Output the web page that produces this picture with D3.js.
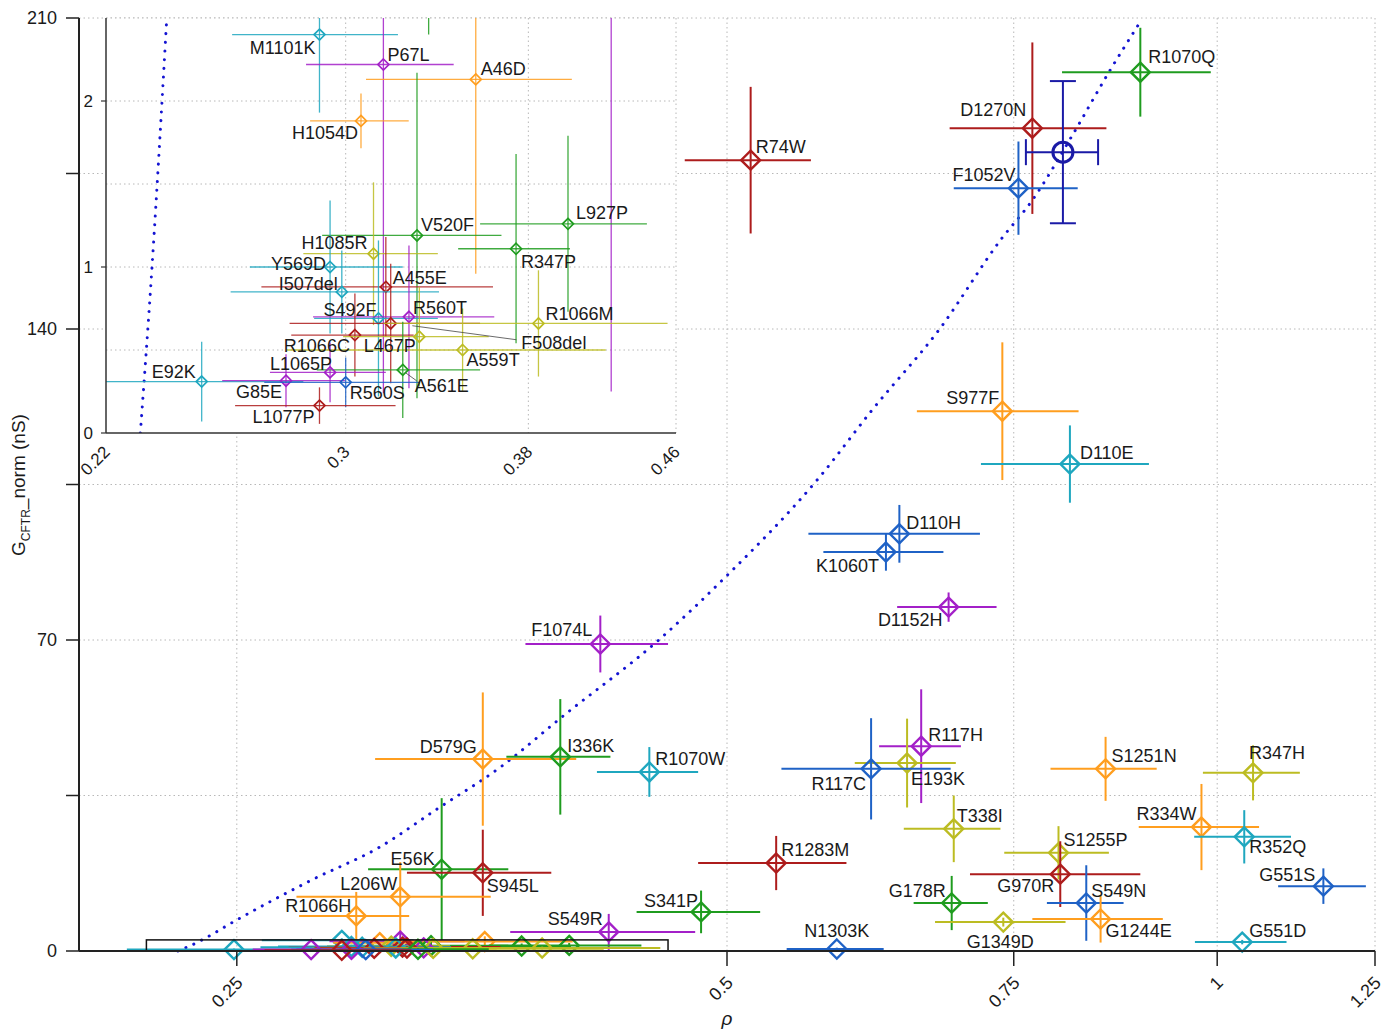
<!DOCTYPE html>
<html>
<head>
<meta charset="utf-8">
<script src="https://cdn.jsdelivr.net/npm/d3@7"></script>
<style>
body { margin: 0; background: #fff; }
text { font-family: "Liberation Sans", Arial, sans-serif; fill: #1a1a1a; }
</style>
</head>
<body>
<script>
// mutants labelled on the main panel
const mainNames = ["R74W","D1270N","F1052V","R1070Q","S977F","D110E","D110H","K1060T","D1152H","F1074L",
  "D579G","I336K","R1070W","R117H","E193K","R117C","S1251N","R347H","T338I","R334W","R352Q","R1283M",
  "S1255P","G970R","G551S","S549N","G1244E","G178R","G1349D","S341P","N1303K","G551D","E56K","S945L",
  "L206W","R1066H","S549R"];
const mainRho = [0.517,0.770,0.755,0.897,0.738,0.812,0.638,0.626,0.684,0.418,
  0.354,0.395,0.448,0.658,0.645,0.613,0.854,1.052,0.689,0.978,1.039,0.536,
  0.799,0.801,1.162,0.831,0.848,0.687,0.739,0.482,0.584,1.036,0.334,0.354,
  0.315,0.296,0.423];
const mainRhoErr = [0.046,0.085,0.066,0.094,0.084,0.096,0.077,0.053,0.048,0.042,
  0.050,0.029,0.032,0.038,0.046,0.073,0.064,0.072,0.047,0.083,0.071,0.056,
  0.059,0.096,0.072,0.045,0.078,0.036,0.068,0.042,0.040,0.067,0.033,0.036,
  0.043,0.023,0.055];
const mainG = [178.0,185.2,171.7,197.8,121.5,109.6,93.9,89.8,77.4,69.1,
  43.2,43.7,40.3,46.1,42.3,41.0,41.0,40.1,27.5,27.9,25.7,19.8,
  22.1,17.3,14.6,10.8,7.2,10.8,6.5,8.8,0.45,2.0,18.4,17.6,
  12.2,7.9,4.3];
const mainGErr = [16.5,19.3,10.5,10.0,15.5,8.7,6.5,4.2,3.3,6.4,
  15.0,13.0,5.6,12.8,10.0,11.4,7.2,6.2,7.5,9.7,6.0,6.1,
  6.0,7.4,4.0,8.5,5.3,6.1,1.0,4.8,0.3,0.5,16.0,9.7,
  7.8,5.4,4.05];

// mutants labelled in the low-conductance inset
const insetNames = ["M1101K","P67L","A46D","H1054D","L927P","V520F","R347P","H1085R","Y569D","A455E",
  "I507del","S492F","R560T","L467P","R1066M","R1066C","F508del","A559T","A561E","E92K",
  "G85E","L1065P","R560S","L1077P"];
const insetRho = [0.290,0.315,0.355,0.306,0.400,0.329,0.374,0.311,0.294,0.316,
  0.2985,0.313,0.3256,0.318,0.385,0.3036,0.330,0.349,0.323,0.249,
  0.2777,0.294,0.300,0.290];
const insetRhoErr = [0.031,0.030,0.047,0.0195,0.043,0.038,0.027,0.027,0.029,0.047,
  0.040,0.025,0.038,0.039,0.070,0.024,0.031,0.071,0.034,0.035,
  0.022,0.022,0.030,0.030];
const insetG = [2.40,2.22,2.13,1.88,1.26,1.19,1.11,1.08,1.00,0.88,
  0.85,0.69,0.70,0.66,0.66,0.59,0.58,0.50,0.38,0.31,
  0.315,0.365,0.305,0.165];
const insetGErr = [0.47,1.98,1.17,0.165,0.53,0.98,0.57,0.43,0.40,0.30,
  0.25,0.47,0.43,0.36,0.32,0.25,0.30,0.25,0.29,0.24,
  0.16,0.18,0.15,0.11];

// wild type reference
const wtRho = [0.804];
const wtRhoErr = [0.041];
const wtG = [179.8];
const wtGErr = [16];

// dotted curve
const curveRho = [0.230,0.2335,0.238,0.250,0.278,0.306,0.332,0.363,0.396,0.454,0.499,0.570,0.614,0.676,0.736,0.770,0.816,0.858,0.895];
const curveG = [0,1.0,2.5,7.0,16.0,23.4,32.0,41.4,52.7,70.0,84.2,106.7,121.8,140.2,160,169,184,197.8,208.6];

// axes
const xTicks = [0.25, 0.5, 0.75, 1, 1.25];
const yTicks = [0, 35, 70, 105, 140, 175, 210];
const yTickLabels = [0, 70, 140, 210];
const insetXTicks = [0.22, 0.3, 0.38, 0.46];
const insetYTicks = [0, 1, 2];
const insetYGrid = [0.5, 1, 1.5, 2, 2.5];

// colours per mutant
const palette = {
  red: "#ad1c1c", green: "#1f9c1f", orange: "#ff9e1f", blue: "#1f62c6",
  cyan: "#1fa7bf", purple: "#a320c8", olive: "#bcbc22"
};
const colourOf = {
  R74W:"red", D1270N:"red", F1052V:"blue", R1070Q:"green", S977F:"orange", D110E:"cyan",
  D110H:"blue", K1060T:"blue", D1152H:"purple", F1074L:"purple", D579G:"orange", I336K:"green",
  R1070W:"cyan", R117H:"purple", E193K:"olive", R117C:"blue", S1251N:"orange", R347H:"olive",
  T338I:"olive", R334W:"orange", R352Q:"cyan", R1283M:"red", S1255P:"olive", G970R:"red",
  G551S:"blue", S549N:"blue", G1244E:"orange", G178R:"green", G1349D:"olive", S341P:"green",
  N1303K:"blue", G551D:"cyan", E56K:"green", S945L:"red", L206W:"orange", R1066H:"orange",
  S549R:"purple",
  M1101K:"cyan", P67L:"purple", A46D:"orange", H1054D:"orange", L927P:"green", V520F:"green",
  R347P:"green", H1085R:"olive", Y569D:"cyan", A455E:"red", I507del:"cyan", S492F:"cyan",
  R560T:"purple", L467P:"red", R1066M:"olive", R1066C:"red", F508del:"olive", A559T:"olive",
  A561E:"green", E92K:"cyan", G85E:"purple", L1065P:"purple", R560S:"blue", L1077P:"red"
};

// label offsets [dx, dy, anchor] from the marker centre
const labelAt = {
  R74W:[5,-7,"start"], D1270N:[-6,-12,"end"], F1052V:[-3,-7,"end"], R1070Q:[8,-9,"start"],
  S977F:[-3,-7,"end"], D110E:[10,-5,"start"], D110H:[7,-5,"start"], K1060T:[-7,20,"end"],
  D1152H:[-6,19,"end"], F1074L:[-8,-8,"end"], D579G:[-6,-6,"end"], I336K:[7,-5,"start"],
  R1070W:[6,-7,"start"], R117H:[7,-5,"start"], E193K:[4,22,"start"], R117C:[-5,21,"end"],
  S1251N:[6,-7,"start"], R347H:[-4,-14,"start"], T338I:[3,-7,"start"], R334W:[-5,-7,"end"],
  R352Q:[5,16,"start"], R1283M:[5,-7,"start"], S1255P:[5,-7,"start"], G970R:[-6,18,"end"],
  G551S:[-8,-5,"end"], S549N:[5,-6,"start"], G1244E:[5,18,"start"], G178R:[-6,-6,"end"],
  G1349D:[-3,26,"middle"], N1303K:[0,-12,"middle"], G551D:[7,-5,"start"], S341P:[-3,-5,"end"],
  E56K:[-7,-4,"end"], S945L:[4,19,"start"], L206W:[-3,-7,"end"], R1066H:[-5,-4,"end"],
  S549R:[-6,-7,"end"],
  M1101K:[-4,19,"end"], P67L:[4,-3,"start"], A46D:[5,-4,"start"], H1054D:[-3,18,"end"],
  L927P:[8,-5,"start"], V520F:[4,-4,"start"], R347P:[5,19,"start"], H1085R:[-6,-5,"end"],
  Y569D:[-4,3,"end"], A455E:[7,-3,"start"], I507del:[-4,-2,"end"], S492F:[-2,-2,"end"],
  R560T:[4,-3,"start"], L467P:[-1,29,"middle"], R1066C:[-5,17,"end"], R1066M:[7,-3,"start"],
  F508del:[102,12,"start"], A559T:[4,16,"start"], A561E:[12,22,"start"], E92K:[-6,-4,"end"],
  G85E:[-4,17,"end"], L1065P:[2,-2,"end"], R560S:[4,17,"start"], L1077P:[-5,17,"end"]
};
// leader lines [x1,y1,x2,y2] relative to the marker
const leaders = { F508del:[-7,-11,97,3], A561E:[3,3,14,11] };

const w = 1395, h = 1032;
const svg = d3.select("body").append("svg").attr("width", w).attr("height", h);

const x = d3.scaleLog().domain([0.2, 1.25]).range([79, 1375]);
const y = d3.scaleLinear().domain([0, 210]).range([951, 18]);
const xi = d3.scaleLog().domain([0.22, 0.46]).range([106, 676]);
const yi = d3.scaleLinear().domain([0, 2.5]).range([433, 18]);

// every mutant in one list
const points = mainNames.map((n, i) => ({name: n, rho: mainRho[i], re: mainRhoErr[i], g: mainG[i], ge: mainGErr[i]}))
  .concat(insetNames.map((n, i) => ({name: n, rho: insetRho[i], re: insetRhoErr[i], g: insetG[i], ge: insetGErr[i]})));

const gridStyle = (sel) => sel.attr("stroke", "#b8b8b8").attr("stroke-width", 1).attr("stroke-dasharray", "1.5,3");

// ---- main panel ----
const main = svg.append("g");
main.selectAll(".hgrid").data(yTicks.filter(d => d > 0)).enter().append("line")
  .attr("x1", x.range()[0]).attr("x2", x.range()[1])
  .attr("y1", d => y(d)).attr("y2", d => y(d)).call(gridStyle);
main.selectAll(".vgrid").data(xTicks).enter().append("line")
  .attr("x1", d => x(d)).attr("x2", d => x(d))
  .attr("y1", y.range()[0]).attr("y2", y.range()[1]).call(gridStyle);

function drawCurve(g, xs, ys) {
  const line = d3.line().x((d, i) => xs(curveRho[i])).y(d => ys(d)).curve(d3.curveMonotoneX);
  g.append("path").attr("d", line(curveG))
    .attr("fill", "none").attr("stroke", "#1414d2").attr("stroke-width", 3)
    .attr("stroke-linecap", "round").attr("stroke-dasharray", "0.1,8.6");
}

function drawPoints(g, xs, ys, s, lw, op) {
  const p = g.selectAll(".pt").data(points).enter().append("g")
    .attr("stroke", d => palette[colourOf[d.name]]).attr("fill", "none");
  p.append("line").attr("stroke-width", lw).attr("opacity", op)
    .attr("x1", d => xs(d.rho - d.re)).attr("x2", d => xs(d.rho + d.re))
    .attr("y1", d => ys(d.g)).attr("y2", d => ys(d.g));
  p.append("line").attr("stroke-width", lw).attr("opacity", op)
    .attr("x1", d => xs(d.rho)).attr("x2", d => xs(d.rho))
    .attr("y1", d => ys(d.g - d.ge)).attr("y2", d => ys(d.g + d.ge));
  p.append("path").attr("stroke-width", lw + 0.4)
    .attr("d", d => {
      const cx = xs(d.rho), cy = ys(d.g);
      return `M${cx},${cy - s}L${cx + s},${cy}L${cx},${cy + s}L${cx - s},${cy}Z`;
    });
}

function drawLabels(g, names, list, xs, ys) {
  names.forEach(n => {
    const d = list.find(p => p.name === n);
    const cx = xs(d.rho), cy = ys(d.g);
    const [dx, dy, anchor] = labelAt[n];
    if (leaders[n]) {
      const l = leaders[n];
      g.append("line").attr("x1", cx + l[0]).attr("y1", cy + l[1]).attr("x2", cx + l[2]).attr("y2", cy + l[3])
        .attr("stroke", "#444").attr("stroke-width", 0.8);
    }
    g.append("text").attr("x", cx + dx).attr("y", cy + dy)
      .attr("text-anchor", anchor).style("font-size", "18px").text(n);
  });
}

drawCurve(main, x, y);
drawPoints(main, x, y, 9.5, 2, 1);

// wild type: circle with capped bars
const wt = main.append("g").attr("stroke", "#1a1aa6").attr("fill", "none").attr("stroke-width", 2);
const wx = x(wtRho[0]), wy = y(wtG[0]);
const wl = x(wtRho[0] - wtRhoErr[0]), wr = x(wtRho[0] + wtRhoErr[0]);
const wb = y(wtG[0] - wtGErr[0]), wtp = y(wtG[0] + wtGErr[0]);
wt.append("line").attr("x1", wl).attr("x2", wr).attr("y1", wy).attr("y2", wy);
wt.append("line").attr("x1", wx).attr("x2", wx).attr("y1", wb).attr("y2", wtp);
[wl, wr].forEach(v => wt.append("line").attr("x1", v).attr("x2", v).attr("y1", wy - 13).attr("y2", wy + 13));
[wb, wtp].forEach(v => wt.append("line").attr("x1", wx - 13).attr("x2", wx + 13).attr("y1", v).attr("y2", v));
wt.append("circle").attr("cx", wx).attr("cy", wy).attr("r", 10).attr("stroke-width", 3);

drawLabels(main, mainNames, points, x, y);

// box marking the inset region
main.append("rect")
  .attr("x", x(0.22)).attr("y", y(2.5))
  .attr("width", x(0.46) - x(0.22)).attr("height", y(0) - y(2.5))
  .attr("fill", "none").attr("stroke", "#111").attr("stroke-width", 1.5);

// main axes
main.append("line").attr("x1", 79).attr("x2", 79).attr("y1", y(210)).attr("y2", y(0))
  .attr("stroke", "#222").attr("stroke-width", 2);
main.append("line").attr("x1", 79).attr("x2", x(1.25)).attr("y1", y(0)).attr("y2", y(0))
  .attr("stroke", "#222").attr("stroke-width", 2);
main.selectAll(".ytick").data(yTicks).enter().append("line")
  .attr("x1", 66).attr("x2", 79).attr("y1", d => y(d)).attr("y2", d => y(d))
  .attr("stroke", "#222").attr("stroke-width", 1.5);
main.selectAll(".ylab").data(yTickLabels).enter().append("text")
  .attr("x", 57).attr("y", d => y(d) + 6).attr("text-anchor", "end")
  .style("font-size", "18px").text(d => d);
main.selectAll(".xtick").data(xTicks).enter().append("line")
  .attr("x1", d => x(d)).attr("x2", d => x(d)).attr("y1", y(0)).attr("y2", y(0) + 15)
  .attr("stroke", "#222").attr("stroke-width", 1.5);
main.selectAll(".xlab").data(xTicks).enter().append("text")
  .attr("transform", d => `translate(${x(d) + 7},${y(0) + 33}) rotate(-45)`)
  .attr("text-anchor", "end").style("font-size", "18px").text(d => d);

main.append("text").attr("x", x(0.5)).attr("y", 1025).attr("text-anchor", "middle")
  .style("font-size", "19px").style("font-style", "italic").text("ρ");

const yl = main.append("text").attr("transform", "translate(25,485) rotate(-90)")
  .attr("text-anchor", "middle").style("font-size", "19px");
yl.append("tspan").text("G");
yl.append("tspan").attr("dy", 5).style("font-size", "12px").text("CFTR");
yl.append("tspan").attr("dy", -5).text("_norm (nS)");

// ---- inset ----
const inset = svg.append("g");
svg.append("defs").append("clipPath").attr("id", "insetClip").append("rect")
  .attr("x", 106).attr("y", 18).attr("width", 570).attr("height", 415);

inset.append("rect").attr("x", 106).attr("y", 18).attr("width", 570).attr("height", 415).attr("fill", "#fff");
inset.selectAll(".hgrid").data(insetYGrid).enter().append("line")
  .attr("x1", 106).attr("x2", 676).attr("y1", d => yi(d)).attr("y2", d => yi(d)).call(gridStyle);
inset.selectAll(".vgrid").data(insetXTicks.slice(1)).enter().append("line")
  .attr("x1", d => xi(d)).attr("x2", d => xi(d)).attr("y1", 18).attr("y2", 433).call(gridStyle);

const insetData = inset.append("g").attr("clip-path", "url(#insetClip)");
drawCurve(insetData, xi, yi);
drawPoints(insetData, xi, yi, 5.5, 1.3, 0.85);
drawLabels(inset, insetNames, points, xi, yi);

inset.append("line").attr("x1", 106).attr("x2", 106).attr("y1", 18).attr("y2", 433)
  .attr("stroke", "#333").attr("stroke-width", 1.5);
inset.append("line").attr("x1", 106).attr("x2", 676).attr("y1", 433).attr("y2", 433)
  .attr("stroke", "#333").attr("stroke-width", 1.5);
inset.selectAll(".ytick").data(insetYTicks).enter().append("line")
  .attr("x1", 101).attr("x2", 106).attr("y1", d => yi(d)).attr("y2", d => yi(d))
  .attr("stroke", "#333").attr("stroke-width", 1.2);
inset.selectAll(".ylab").data(insetYTicks).enter().append("text")
  .attr("x", 93).attr("y", d => yi(d) + 6).attr("text-anchor", "end")
  .style("font-size", "17px").text(d => d);
inset.selectAll(".xlab").data(insetXTicks).enter().append("text")
  .attr("transform", d => `translate(${xi(d) + 5},${yi(0) + 20}) rotate(-45)`)
  .attr("text-anchor", "end").style("font-size", "17px").text(d => d);
</script>
</body>
</html>
